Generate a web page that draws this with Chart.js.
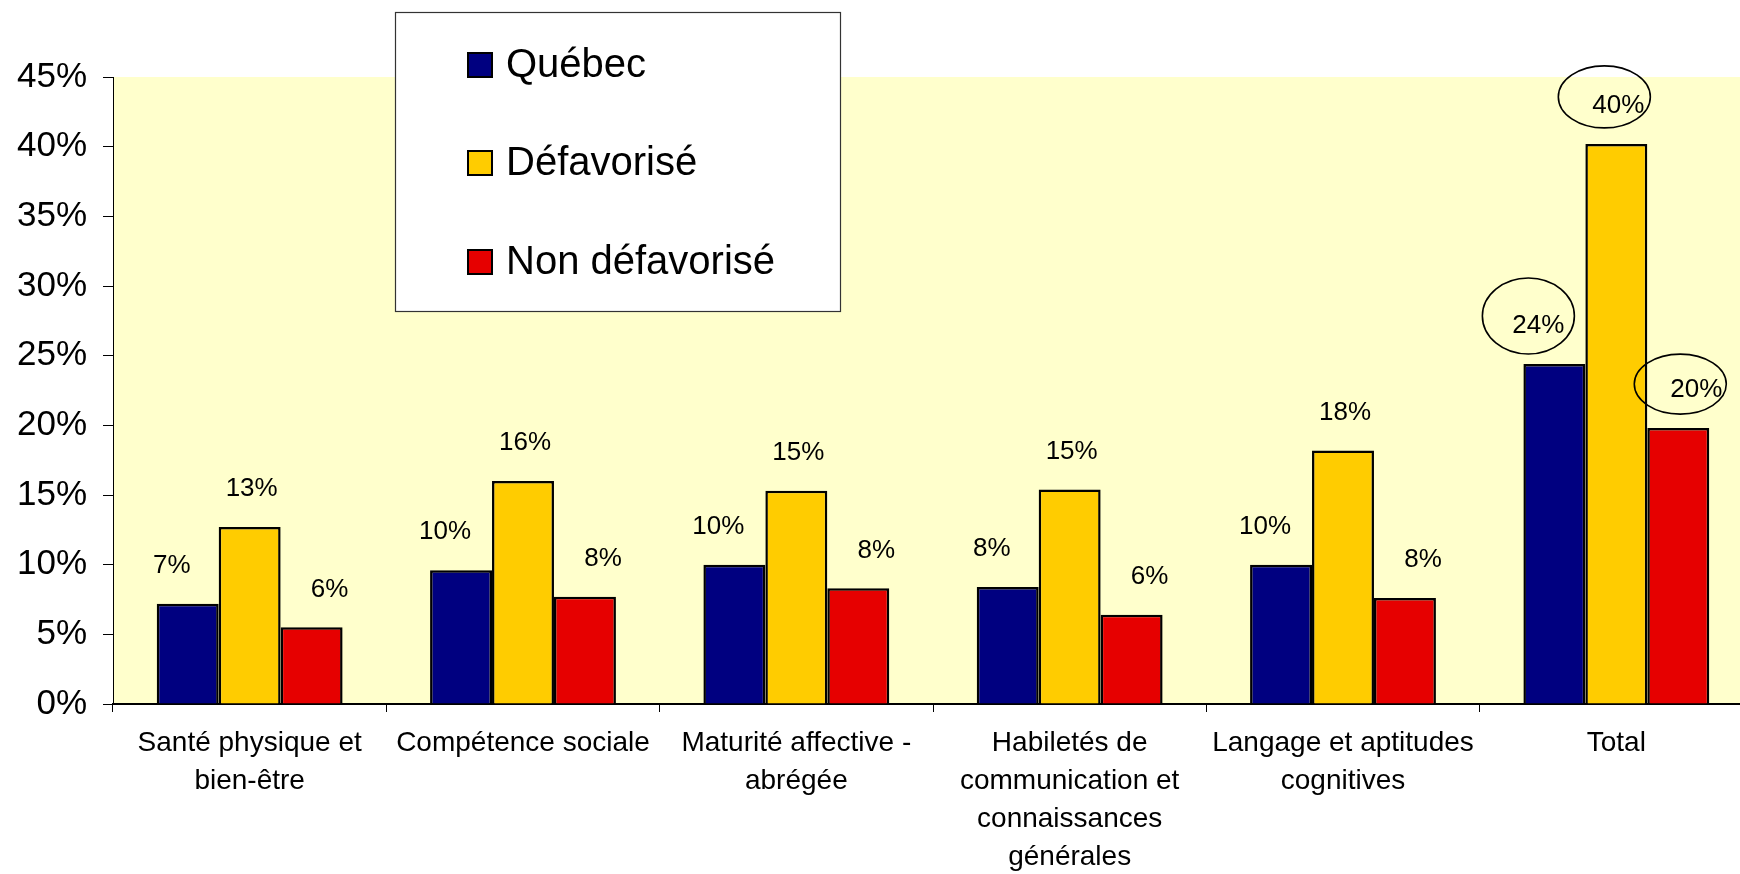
<!DOCTYPE html>
<html>
<head>
<meta charset="utf-8">
<script src="https://cdn.jsdelivr.net/npm/chart.js@4.4.1/dist/chart.umd.min.js"></script>
<style>
  html, body { margin: 0; padding: 0; background: #fff; overflow: hidden; }
  #wrap { width: 1753px; height: 874px; }
</style>
</head>
<body>
<div id="wrap"><canvas id="myChart" width="1753" height="874"></canvas></div>
<script>
// Categories (multi-line labels as in the original)
const categories = [
    ["Santé physique et", "bien-être"],
    ["Compétence sociale"],
    ["Maturité affective -", "abrégée"],
    ["Habiletés de", "communication et", "connaissances", "générales"],
    ["Langage et aptitudes", "cognitives"],
    ["Total"]
];

// Series values (%)
const quebec = [7.2, 9.6, 10.0, 8.4, 10.0, 24.4];
const defavorise = [12.7, 16.0, 15.3, 15.4, 18.2, 40.2];
const nonDefavorise = [5.5, 7.7, 8.3, 6.4, 7.6, 19.8];

const seriesNames = ["Québec", "Défavorisé", "Non défavorisé"];
const seriesColors = ["#000080", "#FFCC00", "#E60000"];

const FONT = "'Liberation Sans', Arial, sans-serif";

// yellow plot background
const plotBackground = {
    id: "plotBackground",
    beforeDraw(chart) {
        const { ctx, chartArea } = chart;
        ctx.save();
        ctx.fillStyle = "#FFFFCC";
        ctx.fillRect(chartArea.left, chartArea.top, chartArea.right - chartArea.left, chartArea.bottom - chartArea.top);
        ctx.restore();
    }
};

// value labels above the bars (Excel-like positions)
const valueLabels = {
    id: "valueLabels",
    afterDatasetsDraw(chart) {
        const ctx = chart.ctx;
        const dx = [-16, 2, 18];
        ctx.save();
        ctx.font = "26px " + FONT;
        ctx.fillStyle = "#000";
        ctx.textAlign = "center";
        ctx.textBaseline = "middle";
        chart.data.datasets.forEach((ds, i) => {
            chart.getDatasetMeta(i).data.forEach((bar, j) => {
                ctx.fillText(Math.round(ds.data[j]) + "%", bar.x + dx[i], bar.y - 38);
            });
        });
        ctx.restore();
    }
};

// hand-drawn circles around the Total values
const totalCircles = {
    id: "totalCircles",
    afterDatasetsDraw(chart) {
        const ctx = chart.ctx;
        const last = chart.data.labels.length - 1;
        const shapes = [[-26, -48, 46, 38], [-12, -47, 46, 31], [2, -44, 46, 30]];
        ctx.save();
        ctx.strokeStyle = "#000";
        ctx.lineWidth = 1.6;
        shapes.forEach((s, i) => {
            const bar = chart.getDatasetMeta(i).data[last];
            ctx.beginPath();
            ctx.ellipse(bar.x + s[0], bar.y + s[1], s[2], s[3], 0, 0, Math.PI * 2);
            ctx.stroke();
        });
        ctx.restore();
    }
};

// legend box drawn on top of the plot area
const legendBox = {
    id: "legendBox",
    afterDraw(chart) {
        const ctx = chart.ctx;
        ctx.save();
        ctx.fillStyle = "#fff";
        ctx.fillRect(395, 12, 446, 300);
        ctx.strokeStyle = "#333";
        ctx.lineWidth = 1.2;
        ctx.strokeRect(395.5, 12.5, 445, 299);
        ctx.font = "40px " + FONT;
        ctx.textBaseline = "middle";
        ctx.textAlign = "left";
        const ys = [65, 163, 262];
        chart.data.datasets.forEach((ds, i) => {
            ctx.fillStyle = ds.backgroundColor;
            ctx.fillRect(468, ys[i] - 12, 24, 24);
            ctx.strokeStyle = "#000";
            ctx.lineWidth = 2;
            ctx.strokeRect(468, ys[i] - 12, 24, 24);
            ctx.fillStyle = "#000";
            ctx.fillText(ds.label, 506, ys[i] + 1);
        });
        ctx.restore();
    }
};

const canvas = document.getElementById("myChart");
const ctx = canvas.getContext("2d");

new Chart(ctx, {
    type: "bar",
    data: {
        labels: categories,
        datasets: [quebec, defavorise, nonDefavorise].map((d, i) => ({
            label: seriesNames[i],
            data: d,
            backgroundColor: seriesColors[i],
            borderColor: "#000",
            borderWidth: 2.5,
            borderSkipped: "bottom",
            categoryPercentage: 0.68,
            barPercentage: 1.0
        }))
    },
    options: {
        responsive: false,
        maintainAspectRatio: false,
        animation: false,
        layout: { padding: { top: 77, left: 0, right: 0, bottom: 0 } },
        plugins: {
            legend: { display: false },
            tooltip: { enabled: false }
        },
        scales: {
            x: {
                grid: { display: true, drawOnChartArea: false, offset: true, tickLength: 8, color: "#000" },
                border: { color: "#000", width: 2 },
                ticks: {
                    color: "#000",
                    font: { family: FONT, size: 28, lineHeight: 1.36 },
                    maxRotation: 0,
                    autoSkip: false,
                    padding: 12
                },
                afterFit: scale => { scale.height = 170; }
            },
            y: {
                min: 0,
                max: 45,
                grid: { display: true, drawOnChartArea: false, tickLength: 10, color: "#000" },
                border: { color: "#000", width: 1 },
                ticks: {
                    stepSize: 5,
                    color: "#000",
                    font: { family: FONT, size: 35 },
                    padding: 16,
                    callback: v => v + "%"
                },
                afterFit: scale => { scale.width = 113; }
            }
        }
    },
    plugins: [plotBackground, valueLabels, totalCircles, legendBox]
});
</script>
</body>
</html>
